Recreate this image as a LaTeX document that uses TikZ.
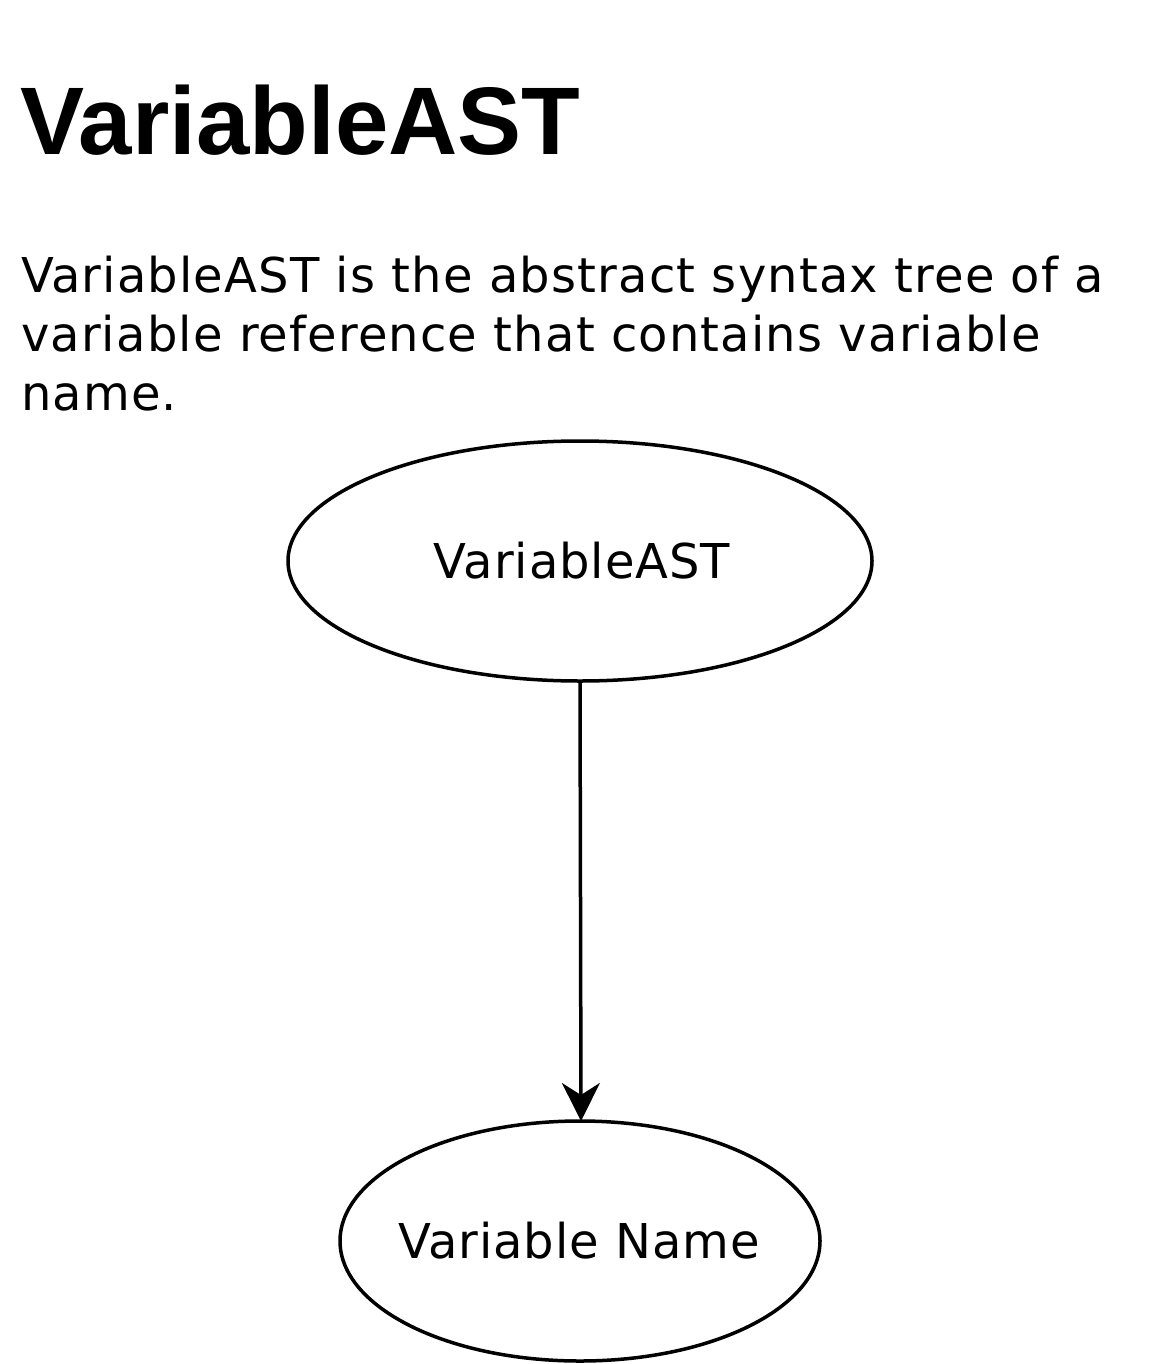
\documentclass[tikz,border=0pt]{standalone}
\usepackage{fontspec}
\setmainfont{DejaVu Sans}[LetterSpace=2]
\newfontfamily\bodyfont{DejaVu Sans}[LetterSpace=2.4]
\newfontfamily\titlefont{Liberation Sans}
\usetikzlibrary{arrows.meta}
\begin{document}
\begin{tikzpicture}[x=1pt,y=-1pt,
  txt/.style={inner sep=0pt,outer sep=0pt,anchor=base west,font=\bodyfont\fontsize{48}{58}\selectfont},
  lbl/.style={inner sep=0pt,font=\fontsize{48}{58}\selectfont},
  edge/.style={line width=3.5pt}]
\useasboundingbox[fill=white] (0,0) rectangle (1164,1364);
\node[anchor=base west,inner sep=0pt,font=\titlefont\bfseries\fontsize{96}{110}\selectfont] (title) at (20,155) {VariableAST};
\node[txt] (l1) at (21,292) {VariableAST is the abstract syntax tree of a};
\node[txt] (l2) at (21,351) {variable reference that contains variable};
\node[txt] (l3) at (21,410) {name.};
\draw[edge] (580,561) ellipse [x radius=292,y radius=120];
\node[lbl] (a) at (582,561) {VariableAST};
\coordinate (abot) at (580,681);
\draw[edge] (580,1241) ellipse [x radius=240,y radius=120];
\node[lbl] (b) at (579,1241) {Variable Name};
\coordinate (btop) at (581,1121);
\draw[edge,-{Stealth[length=38pt,width=38pt,inset=12pt]}] (abot) -- (btop);
\end{tikzpicture}
\end{document}
